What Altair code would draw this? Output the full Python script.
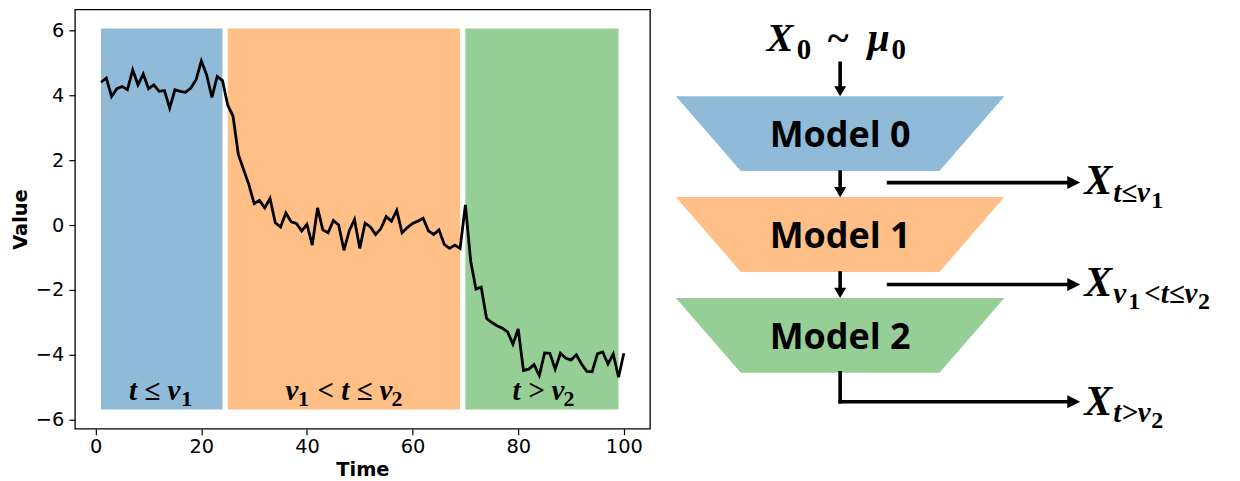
import altair as alt
import pandas as pd

# ---------------- data ----------------
time = list(range(1, 101))
value = [4.41, 4.54, 3.97, 4.21, 4.28, 4.18, 4.79, 4.33, 4.66, 4.21,
         4.33, 4.13, 4.15, 3.61, 4.18, 4.13, 4.10, 4.23, 4.49, 5.07,
         4.64, 3.94, 4.59, 4.46, 3.70, 3.36, 2.18, 1.71, 1.25, 0.66,
         0.76, 0.53, 0.82, 0.07, -0.06, 0.37, 0.10, 0.05, -0.18, 0.02,
         -0.62, 0.53, -0.15, -0.24, 0.14, 0.00, -0.78, -0.18, 0.17, -0.72,
         0.06, -0.06, -0.29, -0.11, 0.26, 0.12, 0.45, -0.24, -0.08, 0.05,
         0.12, 0.21, -0.18, -0.29, -0.15, -0.60, -0.72, -0.62, -0.72, 0.62,
         -1.11, -1.98, -1.92, -2.88, -3.01, -3.11, -3.19, -3.30, -3.68, -3.21,
         -4.49, -4.45, -4.31, -4.65, -3.95, -3.96, -4.45, -3.96, -4.11, -4.17,
         -4.01, -4.29, -4.52, -4.53, -3.98, -3.92, -4.29, -3.98, -4.70, -3.96]

seg_names = ["Model 0", "Model 1", "Model 2"]
seg_start = [1, 25, 70]
seg_end = [24, 69, 99]
seg_colors = ["#8fbbd9", "#ffbf86", "#95cf95"]
band_low = -5.70
band_high = 6.07

x_ticks = [0, 20, 40, 60, 80, 100]
y_ticks = [-6, -4, -2, 0, 2, 4, 6]

# region labels inside the plot (math pieces: italic letters, upright digit subscripts)
reg_text = ["t ≤ ν", "1", "ν", "1", "< t ≤ ν", "2", "t > ν", "2"]
reg_italic = [True, False, True, False, True, False, True, False]
reg_x = [6.3, 16.2, 35.94, 38.31, 41.99, 55.99, 78.9, 88.6]
reg_y = [-5.40, -5.59, -5.40, -5.59, -5.40, -5.59, -5.40, -5.59]
reg_size = [29, 22, 29, 22, 29, 22, 29, 22]

# ---------------- diagram (right panel) ----------------
trap_top = [95, 196, 297]
trap_bottom = [170, 271, 372]
trap_top_x = [676, 1005]
trap_bottom_x = [741, 940]
model_label_y = [146, 247, 348]
center_x = 840.5

seg_x1 = [center_x, center_x, center_x, 889, 889, center_x, center_x]
seg_y1 = [62, 171, 272, 181.5, 283.5, 372, 401]
seg_x2 = [center_x, center_x, center_x, 1072, 1072, center_x, 1072]
seg_y2 = [88, 189, 290, 181.5, 283.5, 401, 401]

head_down_x = [center_x, center_x, center_x]
head_down_y = [90, 191, 292]
head_right_x = [1074.5, 1074.5, 1074.5]
head_right_y = [181.5, 283.5, 401]

math_text = ["X", "0", "~", "μ", "0",
             "X", "t≤ν", "1",
             "X", "ν", "1", "<t≤ν", "2",
             "X", "t>ν", "2"]
math_italic = [True, False, False, True, False,
               True, True, False,
               True, True, False, True, False,
               True, True, False]
math_x = [767, 797, 828, 868, 892,
          1085, 1114, 1152,
          1085, 1114, 1129, 1145, 1199,
          1085, 1114, 1152]
math_y = [50, 58, 50, 50, 58,
          193, 200.5, 207,
          295, 302, 308, 302, 308,
          414, 421, 427]
math_size = [40, 29, 40, 40, 29,
             42, 29, 24,
             42, 29, 24, 29, 24,
             42, 29, 24]

# ---------------- left chart ----------------
line_df = pd.DataFrame({"Time": time, "Value": value})
band_df = pd.DataFrame({"name": seg_names, "start": seg_start, "end": seg_end,
                        "low": [band_low] * 3, "high": [band_high] * 3})
reg_df = pd.DataFrame({"t": reg_text, "it": reg_italic, "x": reg_x, "y": reg_y, "s": reg_size})

xs = alt.Scale(domain=[-3.95, 104.95], nice=False, zero=False)
ys = alt.Scale(domain=[-6.29, 6.66], nice=False, zero=False)
cscale = alt.Scale(domain=seg_names, range=seg_colors)

common_axis = dict(grid=False, domain=False, tickSize=6, tickColor="black", tickWidth=1.2,
                   labelFont="DejaVu Sans", labelFontSize=19.4, labelColor="black",
                   titleFont="DejaVu Sans", titleFontSize=19.4, titleFontWeight="bold",
                   titleColor="black", labelFlush=False)
x_axis = alt.Axis(values=x_ticks, title="Time", labelPadding=3, titlePadding=4, **common_axis)
y_axis = alt.Axis(values=y_ticks, title="Value", labelPadding=5, titlePadding=5, **common_axis)

bands = alt.Chart(band_df).mark_rect(opacity=1).encode(
    x=alt.X("start:Q", scale=xs, axis=x_axis),
    x2="end",
    y=alt.Y("low:Q", scale=ys, axis=y_axis),
    y2="high",
    color=alt.Color("name:N", scale=cscale, legend=None),
)
line = alt.Chart(line_df).mark_line(color="black", strokeWidth=2.8).encode(
    x=alt.X("Time:Q", scale=xs), y=alt.Y("Value:Q", scale=ys))

reg_it = alt.Chart(reg_df).transform_filter("datum.it").mark_text(
    font="Liberation Serif", fontStyle="italic", fontWeight="bold",
    align="left", baseline="alphabetic", color="black").encode(
    x=alt.X("x:Q", scale=xs), y=alt.Y("y:Q", scale=ys),
    text="t:N", size=alt.Size("s:Q", scale=None))
reg_up = alt.Chart(reg_df).transform_filter("!datum.it").mark_text(
    font="Liberation Serif", fontWeight="bold",
    align="left", baseline="alphabetic", color="black").encode(
    x=alt.X("x:Q", scale=xs), y=alt.Y("y:Q", scale=ys),
    text="t:N", size=alt.Size("s:Q", scale=None))

left = alt.layer(bands, line, reg_it, reg_up).properties(
    width=576, height=420,
    view=alt.ViewBackground(stroke="black", strokeWidth=1.3))

# ---------------- right chart ----------------
dx = alt.Scale(domain=[660, 1232], nice=False, zero=False)
dy = alt.Scale(domain=[8, 473], nice=False, zero=False, reverse=True)

trap_rows = []
for i, n in enumerate(seg_names):
    trap_rows.append({"name": n, "y": trap_top[i], "xl": trap_top_x[0], "xr": trap_top_x[1]})
    trap_rows.append({"name": n, "y": trap_bottom[i], "xl": trap_bottom_x[0], "xr": trap_bottom_x[1]})
trap_df = pd.DataFrame(trap_rows)

traps = alt.Chart(trap_df).mark_area(orient="horizontal", opacity=1).encode(
    y=alt.Y("y:Q", scale=dy, axis=None),
    x=alt.X("xl:Q", scale=dx, axis=None),
    x2="xr",
    color=alt.Color("name:N", scale=cscale, legend=None),
    detail="name:N",
)

mlab_df = pd.DataFrame({"name": seg_names, "x": [center_x] * 3, "y": model_label_y})
mlabels = alt.Chart(mlab_df).mark_text(
    font="Open Sans", fontWeight="bold", fontSize=36, color="black",
    align="center", baseline="alphabetic").encode(
    x=alt.X("x:Q", scale=dx, axis=None), y=alt.Y("y:Q", scale=dy, axis=None), text="name:N")

seg_df = pd.DataFrame({"x": seg_x1, "y": seg_y1, "x2": seg_x2, "y2": seg_y2})
shafts = alt.Chart(seg_df).mark_rule(color="black", strokeWidth=3.6, strokeCap="square").encode(
    x=alt.X("x:Q", scale=dx, axis=None), y=alt.Y("y:Q", scale=dy, axis=None),
    x2="x2", y2="y2")

hd_df = pd.DataFrame({"x": head_down_x, "y": head_down_y})
heads_down = alt.Chart(hd_df).mark_point(
    shape="M-1,-0.85L1,-0.85L0,0.85Z", filled=True, size=144, color="black", opacity=1,
    strokeWidth=0).encode(
    x=alt.X("x:Q", scale=dx, axis=None), y=alt.Y("y:Q", scale=dy, axis=None))

hr_df = pd.DataFrame({"x": head_right_x, "y": head_right_y})
heads_right = alt.Chart(hr_df).mark_point(
    shape="M-1,-1L1,0L-1,1Z", filled=True, size=169, color="black", opacity=1,
    strokeWidth=0).encode(
    x=alt.X("x:Q", scale=dx, axis=None), y=alt.Y("y:Q", scale=dy, axis=None))

math_df = pd.DataFrame({"t": math_text, "it": math_italic, "x": math_x, "y": math_y, "s": math_size})
math_it = alt.Chart(math_df).transform_filter("datum.it").mark_text(
    font="Liberation Serif", fontStyle="italic", fontWeight="bold",
    align="left", baseline="alphabetic", color="black").encode(
    x=alt.X("x:Q", scale=dx, axis=None), y=alt.Y("y:Q", scale=dy, axis=None),
    text="t:N", size=alt.Size("s:Q", scale=None))
math_up = alt.Chart(math_df).transform_filter("!datum.it").mark_text(
    font="Liberation Serif", fontWeight="bold",
    align="left", baseline="alphabetic", color="black").encode(
    x=alt.X("x:Q", scale=dx, axis=None), y=alt.Y("y:Q", scale=dy, axis=None),
    text="t:N", size=alt.Size("s:Q", scale=None))

right = alt.layer(traps, mlabels, shafts, heads_down, heads_right, math_it, math_up).properties(
    width=572, height=465,
    view=alt.ViewBackground(stroke="transparent"))

chart = alt.hconcat(left, right, spacing=8).properties(
    padding={"left": 1, "top": 0, "right": 0, "bottom": 0}
).configure(background="white")

chart.save("out.html", embed_options={"renderer": "svg", "actions": False})
